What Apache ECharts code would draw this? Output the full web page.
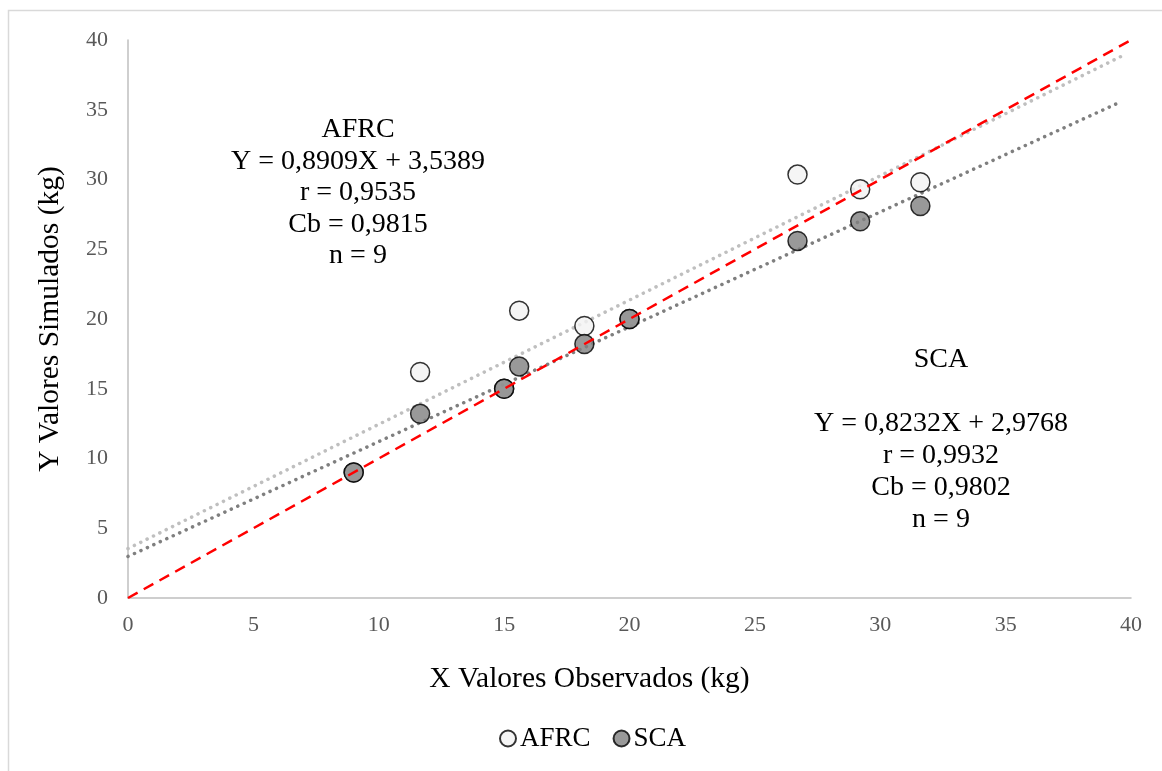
<!DOCTYPE html>
<html>
<head>
<meta charset="utf-8">
<script src="https://cdn.jsdelivr.net/npm/echarts@6/dist/echarts.min.js"></script>
<style>html,body{margin:0;padding:0;background:#fff}#c{width:1162px;height:771px}</style>
</head>
<body>
<div id="c"></div>
<script>
// Data
const obsX = [9, 11.65, 15, 15.6, 18.2, 20, 26.7, 29.2, 31.6];
const afrcY = [9, 16.2, 15, 20.6, 19.5, 20, 30.35, 29.3, 29.8];
const scaY = [9, 13.2, 15, 16.6, 18.2, 20, 25.6, 27.0, 28.1];
const afrcFit = { slope: 0.8909, intercept: 3.5389 };
const scaFit = { slope: 0.8232, intercept: 2.9768 };
const fitRange = [0, 39.6];
const identityRange = [0, 40];
const afrcText = ['AFRC', 'Y = 0,8909X + 3,5389', 'r = 0,9535', 'Cb = 0,9815', 'n = 9'];
const scaText = ['SCA', '', 'Y = 0,8232X + 2,9768', 'r = 0,9932', 'Cb = 0,9802', 'n = 9'];

const FONT = '"Liberation Serif", "Times New Roman", serif';
const pair = (xs, ys) => xs.map((x, i) => [x, ys[i]]);
const fitLine = f => fitRange.map(x => [x, f.slope * x + f.intercept]);

const chart = echarts.init(document.getElementById('c'), null, { renderer: 'canvas' });
chart.setOption({
  backgroundColor: '#fff',
  animation: false,
  textStyle: { fontFamily: FONT },
  grid: { left: 128, right: 31, top: 40, bottom: 173, containLabel: false },
  xAxis: {
    type: 'value', min: 0, max: 40, interval: 5,
    name: 'X Valores Observados (kg)', nameLocation: 'middle', nameGap: 66,
    nameTextStyle: { fontFamily: FONT, fontSize: 29.5, color: '#000', padding: [0, 80, 0, 0] },
    axisLine: { show: true, lineStyle: { color: '#bfbfbf', width: 1.5 } },
    axisTick: { show: false },
    splitLine: { show: false },
    axisLabel: { fontFamily: FONT, fontSize: 22, color: '#595959', margin: 16 }
  },
  yAxis: {
    type: 'value', min: 0, max: 40, interval: 5,
    name: 'Y Valores Simulados (kg)', nameLocation: 'middle', nameGap: 63,
    nameTextStyle: { fontFamily: FONT, fontSize: 29.5, color: '#000' },
    axisLine: { show: true, lineStyle: { color: '#bfbfbf', width: 1.5 } },
    axisTick: { show: false },
    splitLine: { show: false },
    axisLabel: { fontFamily: FONT, fontSize: 22, color: '#595959', margin: 20 }
  },
  legend: {
    bottom: 14, left: 494, itemGap: 22, itemWidth: 16, itemHeight: 16,
    data: ['AFRC', 'SCA'],
    textStyle: { fontFamily: FONT, fontSize: 27, color: '#000', padding: [0, 0, 0, -1] }
  },
  series: [
    {
      name: 'AFRC fit', type: 'line', data: fitLine(afrcFit), symbol: 'none', z: 1,
      lineStyle: { color: '#bfbfbf', width: 3.5, type: [0.1, 7], cap: 'round' }, silent: true
    },
    {
      name: 'SCA fit', type: 'line', data: fitLine(scaFit), symbol: 'none', z: 1,
      lineStyle: { color: '#7f7f7f', width: 3.5, type: [0.1, 7], cap: 'round' }, silent: true
    },
    {
      name: 'AFRC', type: 'scatter', data: pair(obsX, afrcY), symbolSize: 19, z: 3,
      itemStyle: { color: '#f2f2f2', borderColor: '#000', borderWidth: 1.5 }
    },
    {
      name: 'SCA', type: 'scatter', data: pair(obsX, scaY), symbolSize: 19, z: 4,
      itemStyle: { color: '#7f7f7f', borderColor: '#000', borderWidth: 1.5 }
    },
    {
      name: '1:1', type: 'line', data: identityRange.map(v => [v, v]), symbol: 'none', z: 5,
      lineStyle: { color: '#ff0000', width: 2.5, type: [11, 7] }, silent: true
    }
  ],
  graphic: [
    { type: 'rect', shape: { x: 8.5, y: 10.5, width: 1170, height: 800 }, style: { fill: 'none', stroke: '#d9d9d9', lineWidth: 1.5 }, silent: true, z: -10 },
    {
      type: 'text', x: 358, y: 114,
      style: { text: afrcText.join('\n'), font: '28px ' + FONT, fill: '#000', align: 'center', verticalAlign: 'top', lineHeight: 31.5 }
    },
    {
      type: 'text', x: 941, y: 344,
      style: { text: scaText.join('\n'), font: '28px ' + FONT, fill: '#000', align: 'center', verticalAlign: 'top', lineHeight: 32 }
    }
  ]
});
</script>
</body>
</html>
